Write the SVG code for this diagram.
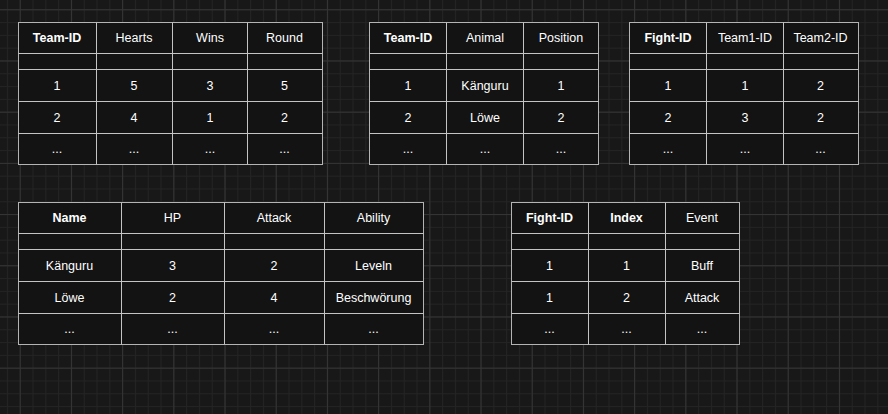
<svg xmlns="http://www.w3.org/2000/svg" width="888" height="414" viewBox="0 0 888 414">
<style>
.cell{fill:#131313;stroke:#b4b4b4;stroke-width:1}
.ln{stroke:#c4c4c4;stroke-width:1;fill:none}
.t{font-family:"Liberation Sans",Arial,sans-serif;font-size:12.5px;fill:#ffffff;text-anchor:middle}
.b{font-weight:bold}
</style>
<defs>
<pattern id="minor" x="19.73" y="9.27" width="12.8" height="12.8" patternUnits="userSpaceOnUse">
<path d="M0 0.5H12.8M0.5 0V12.8" stroke="#242424" stroke-width="1" fill="none"/>
</pattern>
<pattern id="major" x="19.73" y="9.27" width="51.2" height="51.2" patternUnits="userSpaceOnUse">
<path d="M0 0.5H51.2M0.5 0V51.2" stroke="#353535" stroke-width="1" fill="none"/>
</pattern>
</defs>
<rect width="888" height="414" fill="#181818"/>
<rect width="888" height="414" fill="url(#minor)"/>
<rect width="888" height="414" fill="url(#major)"/>

<g id="table-team">
<rect class="cell" x="18.5" y="22.5" width="304" height="142"/>
<path class="ln" d="M96.5 22.5V164.5M172.5 22.5V164.5M247.5 22.5V164.5M18.5 53.5H322.5M18.5 69.5H322.5M18.5 101.5H322.5M18.5 133.5H322.5"/>
<text class="t b" x="57" y="42">Team-ID</text>
<text class="t" x="134" y="42">Hearts</text>
<text class="t" x="210" y="42">Wins</text>
<text class="t" x="284.5" y="42">Round</text>
<text class="t" x="57" y="90">1</text><text class="t" x="134" y="90">5</text><text class="t" x="210" y="90">3</text><text class="t" x="284.5" y="90">5</text>
<text class="t" x="57" y="122">2</text><text class="t" x="134" y="122">4</text><text class="t" x="210" y="122">1</text><text class="t" x="284.5" y="122">2</text>
<text class="t" x="57" y="153">...</text><text class="t" x="134" y="153">...</text><text class="t" x="210" y="153">...</text><text class="t" x="284.5" y="153">...</text>
</g>

<g id="table-team-animal">
<rect class="cell" x="369.5" y="22.5" width="229" height="142"/>
<path class="ln" d="M446.5 22.5V164.5M523.5 22.5V164.5M369.5 53.5H598.5M369.5 69.5H598.5M369.5 101.5H598.5M369.5 133.5H598.5"/>
<text class="t b" x="408" y="42">Team-ID</text>
<text class="t" x="485" y="42">Animal</text>
<text class="t" x="561" y="42">Position</text>
<text class="t" x="408" y="90">1</text><text class="t" x="485" y="90">Känguru</text><text class="t" x="561" y="90">1</text>
<text class="t" x="408" y="122">2</text><text class="t" x="485" y="122">Löwe</text><text class="t" x="561" y="122">2</text>
<text class="t" x="408" y="153">...</text><text class="t" x="485" y="153">...</text><text class="t" x="561" y="153">...</text>
</g>

<g id="table-fight">
<rect class="cell" x="629.5" y="22.5" width="229" height="142"/>
<path class="ln" d="M706.5 22.5V164.5M783.5 22.5V164.5M629.5 53.5H858.5M629.5 69.5H858.5M629.5 101.5H858.5M629.5 133.5H858.5"/>
<text class="t b" x="668" y="42">Fight-ID</text>
<text class="t" x="745" y="42">Team1-ID</text>
<text class="t" x="820.5" y="42">Team2-ID</text>
<text class="t" x="668" y="90">1</text><text class="t" x="745" y="90">1</text><text class="t" x="820.5" y="90">2</text>
<text class="t" x="668" y="122">2</text><text class="t" x="745" y="122">3</text><text class="t" x="820.5" y="122">2</text>
<text class="t" x="668" y="153">...</text><text class="t" x="745" y="153">...</text><text class="t" x="820.5" y="153">...</text>
</g>

<g id="table-animal">
<rect class="cell" x="18.5" y="202.5" width="405" height="142"/>
<path class="ln" d="M121.5 202.5V344.5M224.5 202.5V344.5M324.5 202.5V344.5M18.5 233.5H423.5M18.5 249.5H423.5M18.5 281.5H423.5M18.5 313.5H423.5"/>
<text class="t b" x="69.5" y="222">Name</text>
<text class="t" x="172.5" y="222">HP</text>
<text class="t" x="274" y="222">Attack</text>
<text class="t" x="373.5" y="222">Ability</text>
<text class="t" x="69.5" y="270">Känguru</text><text class="t" x="172.5" y="270">3</text><text class="t" x="274" y="270">2</text><text class="t" x="373.5" y="270">Leveln</text>
<text class="t" x="69.5" y="302">Löwe</text><text class="t" x="172.5" y="302">2</text><text class="t" x="274" y="302">4</text><text class="t" x="373.5" y="302">Beschwörung</text>
<text class="t" x="69.5" y="333">...</text><text class="t" x="172.5" y="333">...</text><text class="t" x="274" y="333">...</text><text class="t" x="373.5" y="333">...</text>
</g>

<g id="table-event">
<rect class="cell" x="511.5" y="202.5" width="228" height="142"/>
<path class="ln" d="M588.5 202.5V344.5M665.5 202.5V344.5M511.5 233.5H739.5M511.5 249.5H739.5M511.5 281.5H739.5M511.5 313.5H739.5"/>
<text class="t b" x="549.5" y="222">Fight-ID</text>
<text class="t b" x="626.5" y="222">Index</text>
<text class="t" x="702" y="222">Event</text>
<text class="t" x="549.5" y="270">1</text><text class="t" x="626.5" y="270">1</text><text class="t" x="702" y="270">Buff</text>
<text class="t" x="549.5" y="302">1</text><text class="t" x="626.5" y="302">2</text><text class="t" x="702" y="302">Attack</text>
<text class="t" x="549.5" y="333">...</text><text class="t" x="626.5" y="333">...</text><text class="t" x="702" y="333">...</text>
</g>
<g id="connectors"/>
</svg>
